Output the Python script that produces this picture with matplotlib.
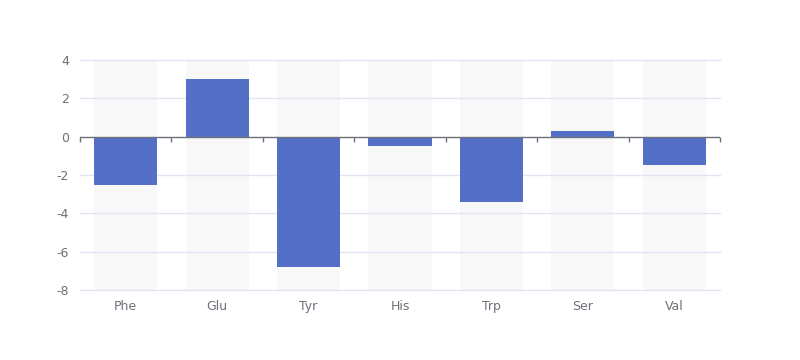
import matplotlib.pyplot as plt
import numpy as np

plt.rcParams['axes.unicode_minus'] = False

categories = ['Phe', 'Glu', 'Tyr', 'His', 'Trp', 'Ser', 'Val']
values = [-2.5, 3.0, -6.8, -0.5, -3.4, 0.3, -1.5]
y_ticks = [-8, -6, -4, -2, 0, 2, 4]

bar_color = '#5470c6'
axis_color = '#6e7079'
grid_color = '#e0e6f1'
shadow_color = '#f8f8f8'

fig = plt.figure(figsize=(8, 3.6), dpi=100)
ax = fig.add_axes([0.1, 70 / 360, 0.8, 230 / 360])

x = np.arange(len(categories))
width = 0.69

# background shadow bars
ax.bar(x, y_ticks[-1] - y_ticks[0], bottom=y_ticks[0], width=width,
       color=shadow_color, zorder=1)
ax.bar(x, values, width=width, color=bar_color, zorder=3)

ax.set_xlim(-0.5, len(categories) - 0.5)
ax.set_ylim(y_ticks[0], y_ticks[-1])

for yt in y_ticks:
    if yt != 0:
        ax.axhline(yt, color=grid_color, lw=1, zorder=2, clip_on=False)

# zero axis line with ticks between categories
ax.axhline(0, color=axis_color, lw=1, zorder=4)
tick_len = 5 / (230 / 12)
bounds = np.arange(len(categories) + 1) - 0.5
ax.vlines(bounds, -tick_len, 0, color=axis_color, lw=1, zorder=4, clip_on=False)

for s in ax.spines.values():
    s.set_visible(False)

ax.set_xticks(x)
ax.set_xticklabels(categories)
ax.set_yticks(y_ticks)
ax.tick_params(axis='both', length=0, labelsize=9, labelcolor=axis_color)
ax.tick_params(axis='x', pad=7)
ax.tick_params(axis='y', pad=8)

fig.savefig('out.png')
